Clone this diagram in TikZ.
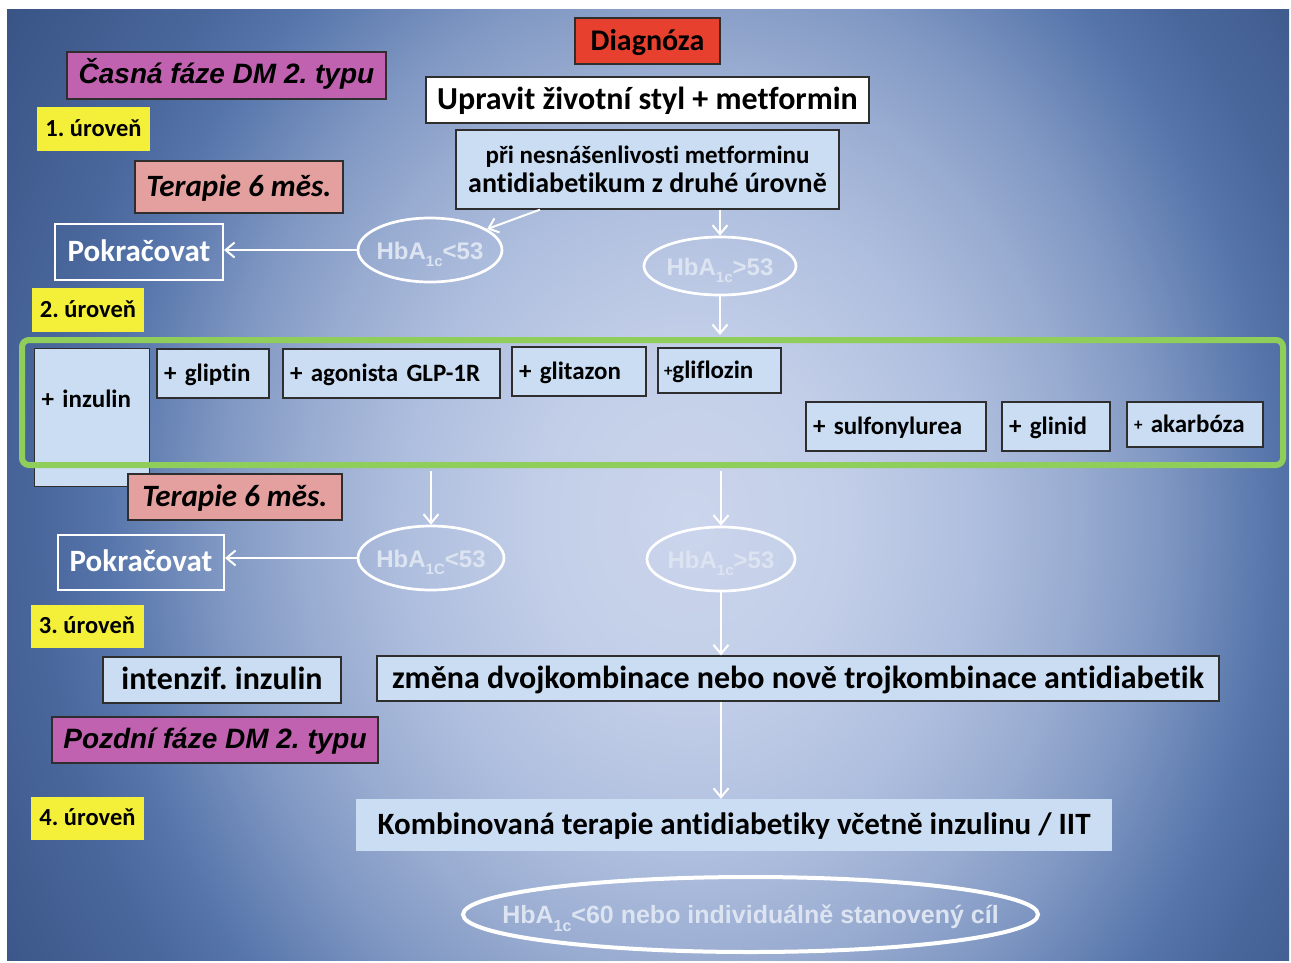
\documentclass[tikz,border=0pt]{standalone}
\usepackage{fontspec}
\setmainfont{Carlito}[Ligatures=NoCommon]
\newfontfamily\ari{Liberation Sans}
\usetikzlibrary{shapes.geometric,arrows.meta}
\newcommand\fsz[1]{\fontsize{#1}{#1}\selectfont}
\newcommand\hbsub[2]{\raisebox{-0.3em}{\fsz{#1}#2}}
\newcommand\smplus{\raisebox{2pt}{\fsz{17}+}}
\definecolor{bgA}{HTML}{CBD5EC}
\definecolor{bgB}{HTML}{C2CEE8}
\definecolor{bgC}{HTML}{AEBEDE}
\definecolor{bgD}{HTML}{98ABD0}
\definecolor{bgE}{HTML}{8098C3}
\definecolor{bgF}{HTML}{5574AA}
\definecolor{bgG}{HTML}{4A679C}
\definecolor{bgH}{HTML}{3C5789}
\definecolor{bgI}{HTML}{30497A}
\definecolor{cRed}{HTML}{E8402E}
\definecolor{cMag}{HTML}{C062B0}
\definecolor{cPink}{HTML}{E4A09F}
\definecolor{cYel}{HTML}{F4F03A}
\definecolor{cLb}{HTML}{CADDF3}
\definecolor{cGrn}{HTML}{90CE5C}
\definecolor{bdr}{HTML}{2E2E2E}
\definecolor{hbtext}{HTML}{DDE4F1}
\pgfdeclareradialshading{bgshade}{\pgfpoint{0bp}{0bp}}{color(0bp)=(bgA); color(4.3bp)=(bgB); color(7.9bp)=(bgC); color(10.7bp)=(bgD); color(12.9bp)=(bgE); color(16.1bp)=(bgF); color(17.9bp)=(bgG); color(21.4bp)=(bgH); color(25bp)=(bgI); color(50bp)=(bgI)}
\begin{document}
\frenchspacing
\begin{tikzpicture}[x=1pt,y=-1pt,
  box/.style={draw=bdr, line width=1.3pt, inner sep=0pt},
  s24/.style={text height=18.4pt, text depth=3.7pt},
  s25/.style={text height=18.8pt, text depth=3.8pt},
  s28/.style={text height=21pt, text depth=4.2pt},
  s30/.style={text height=22.5pt, text depth=4.5pt},
  s31/.style={text height=23.3pt, text depth=4.7pt},
  s32/.style={text height=24pt, text depth=4.8pt},
  redbox/.style={box, fill=cRed, s30, font=\bfseries\fsz{30}},
  whitebox/.style={box, fill=white, s32, font=\bfseries\fsz{32}},
  lbbox/.style={box, fill=cLb, s32, font=\bfseries\fsz{32}},
  phase/.style={box, fill=cMag, s28, font=\ari\bfseries\itshape\fsz{28}},
  ther/.style={box, fill=cPink, s31, font=\bfseries\itshape\fsz{31}},
  lvl/.style={inner sep=0pt, fill=cYel, s24, font=\bfseries\fsz{24.5}},
  cont/.style={draw=white, line width=2pt, inner sep=0pt, text=white, s31, font=\bfseries\fsz{31}},
  hb/.style={ellipse, draw=white, line width=2.7pt, inner sep=0pt, text=hbtext, font=\ari\bfseries\fsz{24}, text height=18pt, text depth=0pt},
  item/.style={box, fill=cLb, s25, font=\bfseries\fsz{25}, inner xsep=7pt, align=left},
  grpbox/.style={draw=cGrn, line width=6pt, rounded corners=7pt, inner sep=0pt},
  arr/.style={draw=white, line width=2pt, -{Straight Barb[length=9pt,width=15pt]}}
]
\useasboundingbox (0,0) rectangle (1291,962);
\fill[white] (0,0) rectangle (1291,962);
\begin{scope}
  \clip (7,9) rectangle (1289,960);
  \shade[shading=bgshade] (-220,-544) rectangle (1600,1584);
\end{scope}

% level 1
\node[redbox, minimum width=145pt, minimum height=46pt] (diag) at (647.5,41) {Diagnóza};
\node[whitebox, minimum width=443pt, minimum height=46pt] (life) at (647.5,100) {Upravit životní styl + metformin};
\node[box, fill=cLb, font=\bfseries\fsz{28}, align=center, minimum width=383pt, minimum height=79pt] (alt) at (647.5,169.5)
  {{\fontsize{25}{33}\selectfont při nesnášenlivosti metforminu}\\[1pt]{\fontsize{28}{33}\selectfont antidiabetikum z druhé úrovně}};
\node[phase, minimum width=319pt, minimum height=47pt] (early) at (226.5,75.5) {Časná fáze DM 2. typu};
\node[lvl, minimum width=113pt, minimum height=44pt] (l1) at (93.5,129) {1. úroveň};
\node[ther, minimum width=208pt, minimum height=52pt] (t1) at (239,187) {Terapie 6 měs.};
\node[cont, minimum width=168pt, minimum height=56pt] (pok1) at (139,252) {Pokračovat};
\node[hb, minimum width=144pt, minimum height=64pt] (e1) at (430,250) {\makebox[0pt]{HbA\hbsub{15}{1c}<53}};
\node[hb, minimum width=152pt, minimum height=58pt] (e2) at (720,266) {\makebox[0pt]{HbA\hbsub{15}{1c}>53}};
\node[lvl, minimum width=112pt, minimum height=44pt] (l2) at (88,310) {2. úroveň};

% level 2 items
\node[item, anchor=north west, text width=101pt, text height=59pt, text depth=79pt] (inz) at (34,348) {+ inzulin};
\node[item, text width=98pt, minimum height=49pt] (glip) at (213,373.5) {+ gliptin};
\node[item, text width=203pt, minimum height=49pt] (glp) at (391.5,373.5) {+ agonista GLP-1R};
\node[item, text width=120pt, minimum height=49pt] (glit) at (579,371.5) {+ glitazon};
\node[item, text width=111pt, minimum height=45pt, inner xsep=6pt] (glif) at (719.5,370.5) {\smplus gliflozin};
\node[item, text width=166pt, minimum height=49pt] (sulf) at (896,426.5) {+ sulfonylurea};
\node[item, text width=94pt, minimum height=49pt] (glin) at (1056,426.5) {+ glinid};
\node[item, text width=122pt, minimum height=45pt] (akar) at (1195,424.5) {\smplus{} akarbóza};
\node[grpbox, minimum width=1261pt, minimum height=125pt] (grp) at (652.5,402.5) {};
\node[ther, minimum width=214pt, minimum height=46pt] (t2) at (235,497) {Terapie 6 měs.};

% second evaluation
\node[hb, minimum width=146pt, minimum height=64pt] (e3) at (431,558) {\makebox[0pt]{HbA\hbsub{15}{1C}<53}};
\node[hb, minimum width=148pt, minimum height=64pt] (e4) at (721,559) {\makebox[0pt]{HbA\hbsub{15}{1c}>53}};
\node[cont, minimum width=166pt, minimum height=55pt] (pok2) at (141,562) {Pokračovat};

% level 3
\node[lvl, minimum width=113pt, minimum height=43pt] (l3) at (87,626) {3. úroveň};
\node[lbbox, minimum width=238pt, minimum height=46pt] (intz) at (222,680) {intenzif. inzulin};
\node[lbbox, minimum width=842pt, minimum height=45pt] (zmena) at (798,678.5) {změna dvojkombinace nebo nově trojkombinace antidiabetik};
\node[phase, minimum width=326pt, minimum height=46pt] (late) at (215,740) {Pozdní fáze DM 2. typu};

% level 4
\node[lvl, minimum width=113pt, minimum height=43pt] (l4) at (87.5,818.5) {4. úroveň};
\node[inner sep=0pt, fill=cLb, s31, font=\bfseries\fsz{31}, minimum width=756pt, minimum height=52pt] (komb) at (734,825) {Kombinovaná terapie antidiabetiky včetně inzulinu / IIT};
\node[hb, line width=4pt, minimum width=575pt, minimum height=75pt, font=\ari\bfseries\fsz{25}] (goal) at (750.5,914.5) {\makebox[0pt]{HbA\hbsub{16}{1c}<60 nebo individuálně stanovený cíl}};

% connectors
\draw[arr] ([xshift=-107.5pt]alt.south) -- (e1);
\draw[arr] (alt.south -| e2.north) -- (e2.north);
\draw[arr] (e1.west) -- (e1.west -| pok1.east);
\draw[arr, shorten >=2pt] (e2.south) -- (e2.south |- grp.north);
\draw[arr, shorten <=3pt] (grp.south -| e3.north) -- (e3.north);
\draw[arr, shorten <=3pt] (grp.south -| e4.north) -- (e4.north);
\draw[arr] (e3.west) -- (e3.west -| pok2.east);
\draw[arr] (e4.south) -- (e4.south |- zmena.north);
\draw[arr] (zmena.south -| e4.south) -- (e4.south |- komb.north);
\end{tikzpicture}
\end{document}
